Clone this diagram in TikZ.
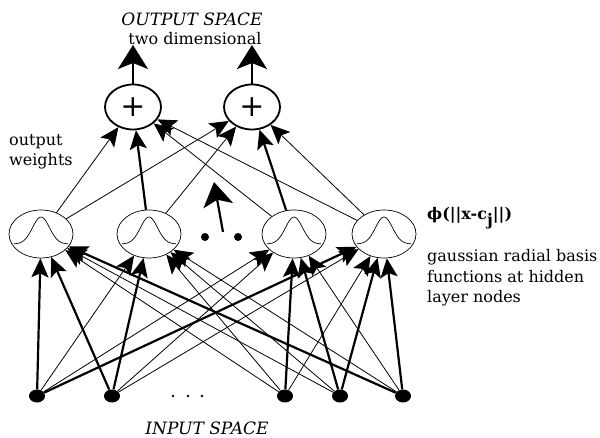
\documentclass[tikz,border=0pt]{standalone}
\usepackage{fontspec}
\setmainfont{DejaVu Serif}
\usetikzlibrary{shapes.geometric,arrows.meta}

\begin{document}
\begin{tikzpicture}[x=1pt,y=-1pt,
  hidnode/.style={ellipse,draw,line width=0.7pt,minimum width=64pt,minimum height=48pt,inner sep=0pt},
  sumnode/.style={ellipse,draw,line width=1.8pt,minimum width=56pt,minimum height=45pt,inner sep=0pt,
    font=\fontsize{30}{30}\selectfont},
  innode/.style={ellipse,fill,minimum width=16pt,minimum height=13pt,inner sep=0pt},
  dotnode/.style={circle,fill,minimum size=#1,inner sep=0pt},
  tip/.style={-{Stealth[length=19pt,width=17pt,inset=4pt]}},
  bigtip/.style={-{Stealth[length=24pt,width=30pt,inset=6pt]}},
  wline/.style={tip,line width=0.8pt},
  bline/.style={tip,line width=2.2pt},
  lbl/.style={font=\fontsize{16}{20.5}\selectfont,inner sep=0pt},
  ilbl/.style={font=\fontsize{17}{20}\selectfont\itshape,inner sep=0pt}
]
\useasboundingbox (0,0) rectangle (600,438);

% input layer
\node[innode] (i1) at (37,396) {};
\node[innode] (i2) at (112,396) {};
\node[innode] (i3) at (285,396) {};
\node[innode] (i4) at (340,396) {};
\node[innode] (i5) at (403,396) {};
\node[dotnode=2.6pt] (e1) at (173,396) {};
\node[dotnode=2.6pt] (e2) at (188,396) {};
\node[dotnode=2.6pt] (e3) at (202,396) {};

% hidden layer
\node[hidnode] (h1) at (41,234) {};
\node[hidnode] (h2) at (149,234) {};
\node[hidnode] (h3) at (294,234) {};
\node[hidnode] (h4) at (384,234) {};
\foreach \n in {h1,h2,h3,h4}{
  \begin{scope}[shift={(\n.center)}]
    \draw[line width=0.7pt] plot[domain=-27:27,samples=45,smooth] (\x,{10-27*exp(-(\x/12)^2)});
  \end{scope}
}
\node[dotnode=8pt] (d1) at (205,237) {};
\node[dotnode=8pt] (d2) at (238,237) {};
\coordinate (c0) at (223,232);
\coordinate (c1) at (214,182);
\draw[bigtip,line width=2.2pt] (c0) -- (c1);

% output layer
\node[sumnode] (o1) at (133,107) {+};
\node[sumnode] (o2) at (252,107) {+};
\coordinate (t1) at (133,45);
\coordinate (t2) at (252,45);
\draw[bigtip,line width=2.2pt] (o1) -- (t1);
\draw[bigtip,line width=2.2pt] (o2) -- (t2);

% input -> hidden connections
\foreach \a/\b in {i1/h1,i2/h1,i2/h2,i3/h3,i4/h3,i4/h4,i5/h4,i5/h1,i1/h4}
  \draw[bline] (\a) -- (\b);
\foreach \a/\b in {i1/h2,i1/h3,i2/h3,i2/h4,i3/h1,i3/h2,i3/h4,i4/h1,i4/h2,i5/h2,i5/h3}
  \draw[wline] (\a) -- (\b);

% hidden -> output weights
\foreach \a/\b in {h2/o1,h3/o2}
  \draw[bline] (\a) -- (\b);
\foreach \a/\b in {h1/o1,h1/o2,h2/o2,h3/o1,h4/o1,h4/o2}
  \draw[wline] (\a) -- (\b);

% labels (base anchor of a multi-line node sits on its last line)
\node[ilbl,anchor=base] (ts) at (192,26) {OUTPUT SPACE};
\node[lbl,anchor=base] (td) at (195,45) {two dimensional};
\node[lbl,anchor=base west,align=left] (ow) at (9,166) {output\\weights};
\node[lbl,anchor=base west,font=\fontsize{16}{20}\selectfont\bfseries] (phi) at (427,220)
  {ϕ(||x-c\raisebox{-6pt}{j}||)};
\node[lbl,anchor=base west,align=left] (gr) at (427,303)
  {gaussian radial basis\\functions at hidden\\layer nodes};
\node[ilbl,anchor=base] (is) at (207,435) {INPUT SPACE};
\end{tikzpicture}
\end{document}
